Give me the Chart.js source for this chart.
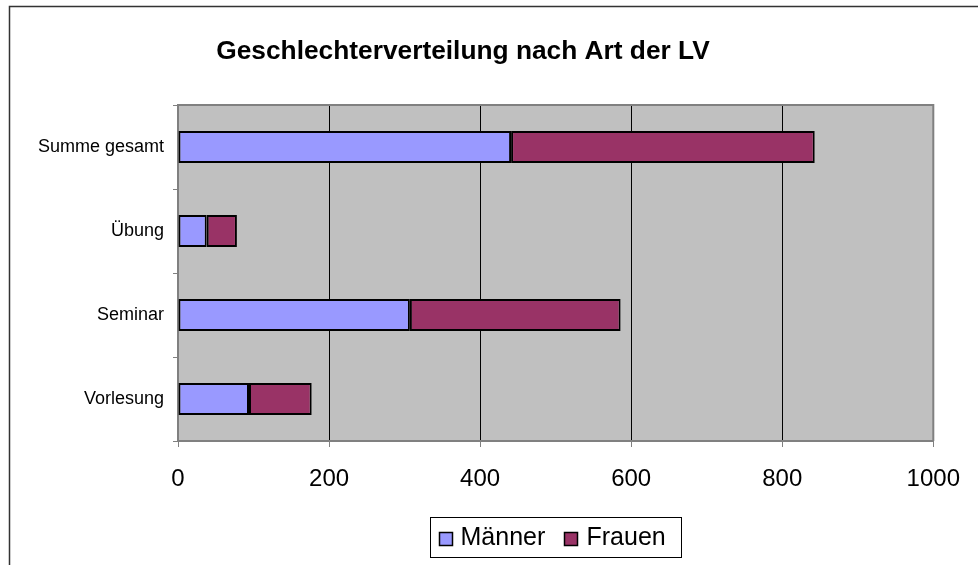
<!DOCTYPE html>
<html>
<head>
<meta charset="utf-8">
<script src="https://cdn.jsdelivr.net/npm/chart.js@4.4.0/dist/chart.umd.min.js"></script>
<style>
    html, body { margin: 0; padding: 0; background: #fff; }
    #wrap { width: 978px; height: 565px; }
</style>
</head>
<body>
<div id="wrap"><canvas id="chart" width="978" height="565"></canvas></div>
<script>
const categories = ['Vorlesung', 'Seminar', 'Übung', 'Summe gesamt'];
const maenner = [94, 307, 38, 441];
const frauen = [83, 279, 40, 402];
const xTicks = [0, 200, 400, 600, 800, 1000];

const titleText = 'Geschlechterverteilung nach Art der LV';
const fontFamily = "'Liberation Sans', Arial, sans-serif";

// Rahmen, Plotfläche, Titel und Legende im Excel-Stil
const excelLook = {
    id: 'excelLook',
    beforeDraw(chart) {
        const ctx = chart.ctx;
        const a = chart.chartArea;
        ctx.save();
        ctx.strokeStyle = '#333';
        ctx.lineWidth = 1.5;
        ctx.beginPath();
        ctx.moveTo(9.5, chart.height);
        ctx.lineTo(9.5, 6.5);
        ctx.lineTo(chart.width, 6.5);
        ctx.stroke();

        ctx.fillStyle = '#c0c0c0';
        ctx.fillRect(a.left, a.top, a.right - a.left, a.bottom - a.top);
        ctx.restore();
    },
    beforeDatasetsDraw(chart) {
        const ctx = chart.ctx;
        const a = chart.chartArea;
        ctx.save();
        ctx.strokeStyle = '#808080';
        ctx.lineWidth = 2;
        ctx.beginPath();
        ctx.moveTo(a.left, a.top);
        ctx.lineTo(a.right, a.top);
        ctx.lineTo(a.right, a.bottom);
        ctx.stroke();
        ctx.restore();
    },
    afterDraw(chart) {
        const ctx = chart.ctx;
        const a = chart.chartArea;
        ctx.save();

        ctx.fillStyle = '#000';
        ctx.font = 'bold 26.3px ' + fontFamily;
        ctx.textAlign = 'center';
        ctx.textBaseline = 'alphabetic';
        ctx.fillText(titleText, 463, 59);

        // Legende
        const cx = (a.left + a.right) / 2;
        const left = Math.round(cx - 125.5) + 0.5;
        const top = 517.5;
        ctx.lineWidth = 1;
        ctx.strokeStyle = '#000';
        ctx.fillStyle = '#fff';
        ctx.fillRect(left, top, 251, 40);
        ctx.strokeRect(left, top, 251, 40);

        ctx.font = '25px ' + fontFamily;
        ctx.textAlign = 'left';
        ctx.textBaseline = 'middle';
        const offsets = [[9, 30], [134, 156]];
        chart.data.datasets.forEach((ds, i) => {
            const mx = left + offsets[i][0];
            ctx.fillStyle = ds.backgroundColor;
            ctx.fillRect(mx, top + 15, 13, 13);
            ctx.lineWidth = 1.5;
            ctx.strokeStyle = '#000';
            ctx.strokeRect(mx, top + 15, 13, 13);
            ctx.fillStyle = '#000';
            ctx.fillText(ds.label, left + offsets[i][1], top + 21);
        });
        ctx.restore();
    }
};

new Chart(document.getElementById('chart'), {
    type: 'bar',
    data: {
        labels: categories,
        datasets: [
            {
                label: 'Männer',
                data: maenner,
                backgroundColor: '#9999ff',
                borderColor: '#000',
                borderWidth: 2,
                borderSkipped: false
            },
            {
                label: 'Frauen',
                data: frauen,
                backgroundColor: '#993366',
                borderColor: '#000',
                borderWidth: 2,
                borderSkipped: false
            }
        ]
    },
    options: {
        indexAxis: 'y',
        responsive: false,
        animation: false,
        datasets: {
            bar: {
                categoryPercentage: 1,
                barPercentage: 0.38
            }
        },
        layout: {
            padding: {left: 10, top: 105, right: 42, bottom: 64}
        },
        plugins: {
            legend: {display: false},
            title: {display: false},
            tooltip: {enabled: false}
        },
        scales: {
            x: {
                stacked: true,
                min: 0,
                max: 1000,
                afterBuildTicks: scale => {
                    scale.ticks = xTicks.map(v => ({value: v}));
                },
                afterFit: scale => {
                    scale.height = 60;
                },
                border: {display: true, color: '#808080', width: 2},
                grid: {
                    color: c => (c.tick && (c.tick.value === 0 || c.tick.value === 1000)) ? 'rgba(0,0,0,0)' : '#000',
                    tickColor: '#808080',
                    tickLength: 6,
                    lineWidth: 1
                },
                ticks: {
                    color: '#000',
                    padding: 18,
                    maxRotation: 0,
                    callback: value => String(value),
                    font: {family: fontFamily, size: 24}
                }
            },
            y: {
                stacked: true,
                reverse: true,
                afterFit: scale => {
                    scale.width = 168;
                },
                border: {display: true, color: '#808080', width: 2},
                grid: {
                    drawOnChartArea: false,
                    drawTicks: true,
                    tickLength: 5,
                    color: '#808080'
                },
                ticks: {
                    color: '#000',
                    padding: 9,
                    font: {family: fontFamily, size: 18}
                }
            }
        }
    },
    plugins: [excelLook]
});
</script>
</body>
</html>
